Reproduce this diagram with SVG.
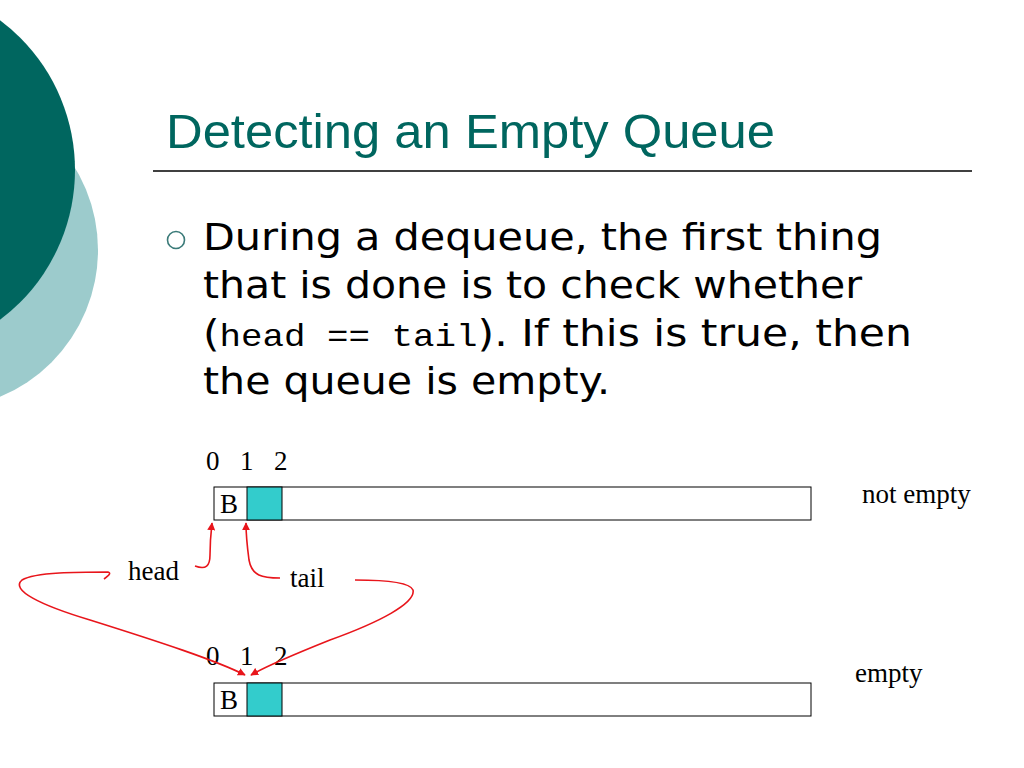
<svg xmlns="http://www.w3.org/2000/svg" width="1024" height="768" viewBox="0 0 1024 768">
<defs>
<style>
.title{font-family:"Liberation Sans",Arial,sans-serif;font-size:48px;fill:#00665f}
.body{font-family:"DejaVu Sans",Verdana,sans-serif;font-size:38px;fill:#000}
.mono{font-family:"Liberation Mono","Courier New",monospace;font-size:32px}
.tm{font-family:"Liberation Serif","Times New Roman",serif;font-size:27px;fill:#000}
.cell{fill:#fff;stroke:#000;stroke-width:1}
.cyan{fill:#33cccc;stroke:#000;stroke-width:1}
.red{fill:none;stroke:#e8151b;stroke-width:1.6}
</style>
<marker id="ah" viewBox="0 0 10 10" refX="9" refY="5" markerWidth="8" markerHeight="8" markerUnits="userSpaceOnUse" orient="auto">
<path d="M0,0 L10,5 L0,10 z" fill="#e8151b"/>
</marker>
</defs>
<rect width="1024" height="768" fill="#fff"/>
<g id="decor">
<circle cx="-61" cy="250" r="159" fill="#9ccbcc"/>
<circle cx="-112" cy="170" r="187" fill="#00665f"/>
</g>
<g id="title">
<text class="title" x="166" y="148" textLength="609" lengthAdjust="spacingAndGlyphs">Detecting an Empty Queue</text>
<line x1="153" y1="171" x2="972" y2="171" stroke="#000" stroke-width="1.5"/>
</g>
<g id="bullet">
<circle cx="176" cy="240" r="8.5" fill="none" stroke="#3a7a78" stroke-width="1.6"/>
<text class="body" x="203" y="250" textLength="679" lengthAdjust="spacingAndGlyphs">During a dequeue, the first thing</text>
<text class="body" x="203" y="298" textLength="659" lengthAdjust="spacingAndGlyphs">that is done is to check whether</text>
<text class="body" x="203" y="346" textLength="709" lengthAdjust="spacingAndGlyphs">(<tspan class="mono">head == tail</tspan>). If this is true, then</text>
<text class="body" x="203" y="394" textLength="407" lengthAdjust="spacingAndGlyphs">the queue is empty.</text>
</g>
<g id="array-top">
<text class="tm" x="206" y="470">0</text>
<text class="tm" x="240" y="470">1</text>
<text class="tm" x="274" y="470">2</text>
<rect class="cell" x="214" y="487" width="597" height="33"/>
<rect class="cyan" x="247" y="487" width="35" height="33"/>
<text class="tm" x="220" y="513">B</text>
<text class="tm" x="862" y="503">not empty</text>
</g>
<g id="array-bottom">
<text class="tm" x="206" y="665">0</text>
<text class="tm" x="240" y="665">1</text>
<text class="tm" x="274" y="665">2</text>
<rect class="cell" x="214" y="683" width="597" height="33"/>
<rect class="cyan" x="247" y="683" width="35" height="33"/>
<text class="tm" x="220" y="709">B</text>
<text class="tm" x="855" y="682">empty</text>
</g>
<g id="labels">
<text class="tm" x="128" y="580">head</text>
<text class="tm" x="290" y="587">tail</text>
</g>
<g id="connectors">
<path class="red" d="M195,566 C206,570 210,566 210,555 C210,540 211,532 212,523" marker-end="url(#ah)"/>
<path class="red" d="M280,578 C262,578 252,576 249,560 C247,545 246,535 246,523" marker-end="url(#ah)"/>
<path class="red" d="M104,579 C108,576 112,573 108,572 C80,572 35,572 22,580 C10,590 40,605 90,620 C160,642 215,660 245,675" marker-end="url(#ah)"/>
<path class="red" d="M355,580 C385,580 410,582 413,590 C416,603 380,622 330,640 C300,652 270,664 251,675" marker-end="url(#ah)"/>
</g>
</svg>
